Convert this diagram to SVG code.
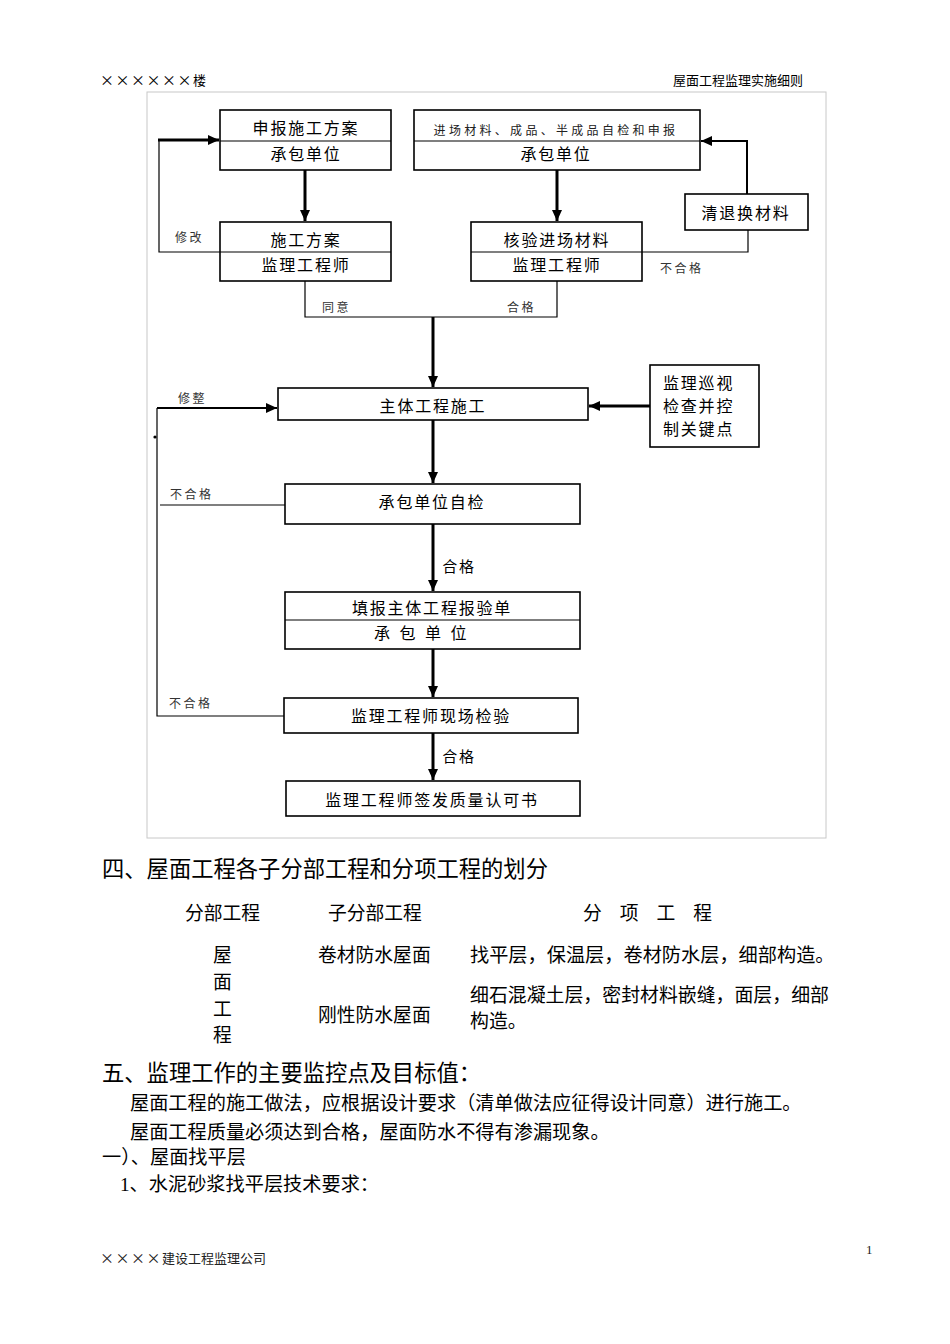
<svg xmlns="http://www.w3.org/2000/svg" width="950" height="1344" viewBox="0 0 950 1344">
<defs>
<marker id="ah" markerUnits="userSpaceOnUse" markerWidth="12" markerHeight="12" refX="11" refY="6" orient="auto">
<path d="M0,1 L11,6 L0,11 Z" fill="#000"/>
</marker>
<style>
.box{fill:#fff;stroke:#000;stroke-width:1.6}
.div{stroke:#000;stroke-width:1.2}
.t{font-family:"Noto Sans CJK SC","Liberation Sans",sans-serif;font-size:16px;letter-spacing:1.8px;fill:#000;text-anchor:middle;dominant-baseline:central}
.s{font-family:"Noto Sans CJK SC","Liberation Sans",sans-serif;font-size:12px;letter-spacing:2.5px;fill:#333;dominant-baseline:central}
.thick{fill:none;stroke:#000;stroke-width:3}
.mid{fill:none;stroke:#000;stroke-width:2}
.thin{fill:none;stroke:#000;stroke-width:1.2}
.doc{font-family:"Liberation Serif","Noto Sans CJK SC",serif;fill:#000}
.x{font-family:"Noto Sans CJK SC",sans-serif;font-size:14px;letter-spacing:1.5px}
</style>
</defs>
<rect width="950" height="1344" fill="#fff"/>
<g id="header">
<text class="doc" x="100" y="85" font-size="13" fill="#222"><tspan class="x">××××××</tspan>楼</text>
<text class="doc" x="803" y="85" font-size="13" text-anchor="end" fill="#222">屋面工程监理实施细则</text>
</g>
<rect id="frame" x="147" y="92" width="679" height="746" fill="none" stroke="#c8c8c8" stroke-width="1"/>
<g id="connectors">
<path class="thin" d="M220,252 H159 V140"/>
<path class="thick" d="M158,140 H219" marker-end="url(#ah)"/>
<path class="thick" d="M305,170 V221" marker-end="url(#ah)"/>
<path class="thick" d="M557,170 V221" marker-end="url(#ah)"/>
<path class="thin" d="M642,252 H748 V230"/>
<path class="mid" d="M747,194 V141 H701" marker-end="url(#ah)"/>
<path class="thin" d="M305,281 V317 H557 V281"/>
<path class="thick" d="M433,317 V387" marker-end="url(#ah)"/>
<path class="thick" d="M650,406 H589" marker-end="url(#ah)"/>
<path class="thick" d="M433,420 V483" marker-end="url(#ah)"/>
<path class="thick" d="M433,524 V591" marker-end="url(#ah)"/>
<path class="thick" d="M433,649 V697" marker-end="url(#ah)"/>
<path class="thick" d="M433,733 V780" marker-end="url(#ah)"/>
<path class="thin" d="M284,716 H157 V408"/>
<path class="mid" d="M157,408 H277" marker-end="url(#ah)"/>
<path class="thin" d="M285,505 H160"/>
<circle cx="155" cy="437" r="1.6" fill="#000"/>
<text class="s" x="175" y="236">修改</text>
<text class="s" x="322" y="306">同意</text>
<text class="s" x="507" y="306">合格</text>
<text class="s" x="660" y="267">不合格</text>
<text class="s" x="178" y="397">修整</text>
<text class="s" x="170" y="493">不合格</text>
<text class="s" x="169" y="702">不合格</text>
<text class="t" x="459" y="565" style="font-size:15px">合格</text>
<text class="t" x="459" y="755" style="font-size:15px">合格</text>
</g>
<g id="n1">
<rect class="box" x="220" y="110" width="171" height="60"/>
<line class="div" x1="220" y1="141" x2="391" y2="141"/>
<text class="t" x="306" y="127">申报施工方案</text>
<text class="t" x="306" y="153">承包单位</text>
</g>
<g id="n2">
<rect class="box" x="414" y="110" width="286" height="60"/>
<line class="div" x1="414" y1="141" x2="700" y2="141"/>
<text class="t" x="556" y="129" style="font-size:12px;letter-spacing:3.3px;fill:#222">进场材料、成品、半成品自检和申报</text>
<text class="t" x="556" y="153">承包单位</text>
</g>
<g id="n3">
<rect class="box" x="220" y="222" width="171" height="59"/>
<line class="div" x1="220" y1="252" x2="391" y2="252"/>
<text class="t" x="306" y="239">施工方案</text>
<text class="t" x="306" y="264">监理工程师</text>
</g>
<g id="n4">
<rect class="box" x="471" y="222" width="171" height="59"/>
<line class="div" x1="471" y1="252" x2="642" y2="252"/>
<text class="t" x="557" y="239">核验进场材料</text>
<text class="t" x="557" y="264">监理工程师</text>
</g>
<g id="n5">
<rect class="box" x="685" y="194" width="123" height="36" stroke-width="1.2"/>
<text class="t" x="746" y="212">清退换材料</text>
</g>
<g id="n6">
<rect class="box" x="278" y="388" width="310" height="32" stroke-width="1.2"/>
<text class="t" x="433" y="405">主体工程施工</text>
</g>
<g id="n7">
<rect class="box" x="650" y="365" width="109" height="82" stroke-width="1.2"/>
<text class="t" x="663" y="382" style="text-anchor:start">监理巡视</text>
<text class="t" x="663" y="405" style="text-anchor:start">检查并控</text>
<text class="t" x="663" y="428" style="text-anchor:start">制关键点</text>
</g>
<g id="n8">
<rect class="box" x="285" y="484" width="295" height="40"/>
<text class="t" x="432" y="501">承包单位自检</text>
</g>
<g id="n9">
<rect class="box" x="285" y="592" width="295" height="57"/>
<line class="div" x1="285" y1="620" x2="580" y2="620"/>
<text class="t" x="432" y="607">填报主体工程报验单</text>
<text class="t" x="374" y="632" style="text-anchor:start;letter-spacing:9.5px">承包单位</text>
</g>
<g id="n10">
<rect class="box" x="284" y="698" width="294" height="35" stroke-width="2"/>
<text class="t" x="431" y="715">监理工程师现场检验</text>
</g>
<g id="n11">
<rect class="box" x="286" y="781" width="294" height="35" stroke-width="2"/>
<text class="t" x="432" y="799">监理工程师签发质量认可书</text>
</g>
<g id="body" class="doc">
<text x="102" y="877" font-size="22.3">四、屋面工程各子分部工程和分项工程的划分</text>
<text x="185" y="920" font-size="18.8">分部工程</text>
<text x="328" y="920" font-size="18.8">子分部工程</text>
<text x="583" y="920" font-size="18.8" letter-spacing="18">分项工程</text>
<text x="213" y="962" font-size="18.8">屋</text>
<text x="213" y="989" font-size="18.8">面</text>
<text x="213" y="1016" font-size="18.8">工</text>
<text x="213" y="1042" font-size="18.8">程</text>
<text x="318" y="962" font-size="18.8">卷材防水屋面</text>
<text x="470" y="962" font-size="19.2">找平层，保温层，卷材防水层，细部构造。</text>
<text x="470" y="1002" font-size="18.9">细石混凝土层，密封材料嵌缝，面层，细部</text>
<text x="470" y="1028" font-size="18.9">构造。</text>
<text x="318" y="1022" font-size="18.8">刚性防水屋面</text>
<text x="102" y="1081" font-size="22.3">五、监理工作的主要监控点及目标值：</text>
<text x="130" y="1110" font-size="19.2">屋面工程的施工做法，应根据设计要求（清单做法应征得设计同意）进行施工。</text>
<text x="130" y="1139" font-size="19.2">屋面工程质量必须达到合格，屋面防水不得有渗漏现象。</text>
<text x="102" y="1164" font-size="19.2">一）、屋面找平层</text>
<text x="120" y="1191" font-size="19.2">1、水泥砂浆找平层技术要求：</text>
</g>
<g id="footer" class="doc">
<text x="100" y="1263" font-size="13" fill="#222"><tspan class="x">××××</tspan>建设工程监理公司</text>
<text x="866" y="1254" font-size="13" fill="#222">1</text>
</g>
</svg>
